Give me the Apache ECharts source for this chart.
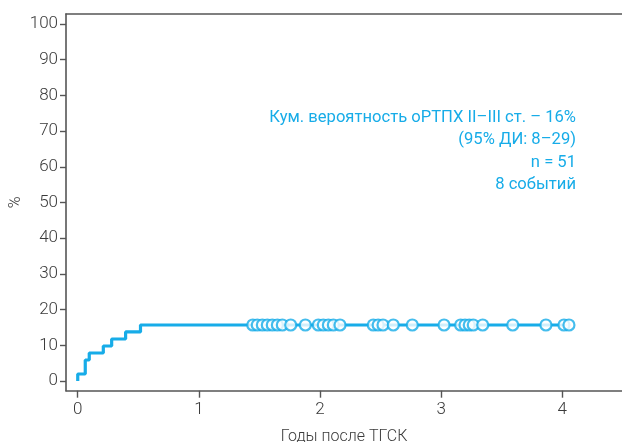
<!DOCTYPE html>
<html>
<head>
<meta charset="utf-8">
<script src="https://cdn.jsdelivr.net/npm/echarts@6/dist/echarts.min.js"></script>
<style>
  html, body { margin: 0; padding: 0; background: #fff; }
  #chart { width: 622px; height: 442px; }
</style>
</head>
<body>
<div id="chart"></div>
<script>
// Cumulative incidence of acute GVHD grade II–III (years after HSCT)
const eventTimes = [0, 0.062, 0.095, 0.211, 0.28, 0.395, 0.518];
const eventLevels = [1.96, 5.88, 7.84, 9.80, 11.76, 13.73, 15.69];
const censorTimes = [
  1.445, 1.482, 1.524, 1.565, 1.606, 1.648, 1.689, 1.758, 1.879,
  1.986, 2.027, 2.069, 2.110, 2.165,
  2.44, 2.48, 2.52, 2.605, 2.762,
  3.024, 3.161, 3.197, 3.232, 3.265, 3.343, 3.591, 3.865, 4.014, 4.055
];
const xTicks = [0, 1, 2, 3, 4];
const yTicks = [0, 10, 20, 30, 40, 50, 60, 70, 80, 90, 100];
const noteLines = [
  'Кум. вероятность оРТПХ II–III ст. – 16%',
  '(95% ДИ: 8–29)',
  'n = 51',
  '8 событий'
];

const CYAN = '#17ACE8';
const AXIS = '#555555';
const TEXT = '#3a3a3a';
const FONT = 'Roboto';

// curve: starts at 0, jumps at each event, runs flat to last follow-up
const finalLevel = eventLevels[eventLevels.length - 1];
const curve = [[0, 0]];
eventTimes.forEach((t, i) => curve.push([t, eventLevels[i]]));
curve.push([censorTimes[censorTimes.length - 1], finalLevel]);
const censorPts = censorTimes.map(t => [t, finalLevel]);

const chart = echarts.init(document.getElementById('chart'));
chart.setOption({
  animation: false,
  backgroundColor: '#fff',
  grid: { left: 66, right: 0, top: 14, bottom: 51.3, containLabel: false, outerBoundsMode: 'none' },
  xAxis: [{
    type: 'value',
    min: -0.097, max: 4.493,
    name: 'Годы после ТГСК',
    nameLocation: 'middle',
    nameGap: 38,
    nameTextStyle: { fontFamily: FONT, fontWeight: 300, fontSize: 16, color: TEXT },
    axisLine: { show: true, onZero: false, lineStyle: { color: AXIS, width: 1.6 } },
    axisTick: { show: true, length: 7, customValues: xTicks, lineStyle: { color: AXIS, width: 1.4 } },
    axisLabel: { customValues: xTicks, fontFamily: FONT, fontWeight: 300, fontSize: 17, color: TEXT, margin: 11 },
    splitLine: { show: false }
  }, {
    type: 'value',
    position: 'top',
    min: -0.097, max: 4.493,
    axisLine: { show: true, onZero: false, lineStyle: { color: AXIS, width: 1.6 } },
    axisTick: { show: false },
    axisLabel: { show: false },
    splitLine: { show: false }
  }],
  yAxis: {
    type: 'value',
    min: -2.72, max: 102.8,
    name: '%',
    nameLocation: 'middle',
    nameGap: 42,
    nameMoveOverlap: false,
    nameRotate: 90,
    nameTextStyle: { fontFamily: FONT, fontWeight: 300, fontSize: 16, color: TEXT },
    axisLine: { show: true, onZero: false, lineStyle: { color: AXIS, width: 1.6 } },
    axisTick: { show: true, length: 6, customValues: yTicks, lineStyle: { color: AXIS, width: 1.4 } },
    axisLabel: { customValues: yTicks, fontFamily: FONT, fontWeight: 300, fontSize: 17, color: TEXT, margin: 8 },
    splitLine: { show: false }
  },
  series: [{
    type: 'line',
    step: 'end',
    data: curve,
    symbol: 'none',
    lineStyle: { color: CYAN, width: 3.2 },
    z: 2
  }, {
    type: 'scatter',
    data: censorPts,
    symbol: 'circle',
    symbolSize: 11,
    itemStyle: { color: '#ffffff', borderColor: CYAN, borderWidth: 2.2 },
    z: 3
  }],
  graphic: noteLines.map((s, i) => ({
    type: 'text',
    right: 46,
    top: 109 + i * 22.5,
    style: { text: s, fontFamily: FONT, fontSize: 16.6, fill: CYAN, textAlign: 'right' }
  }))
});
</script>
</body>
</html>
